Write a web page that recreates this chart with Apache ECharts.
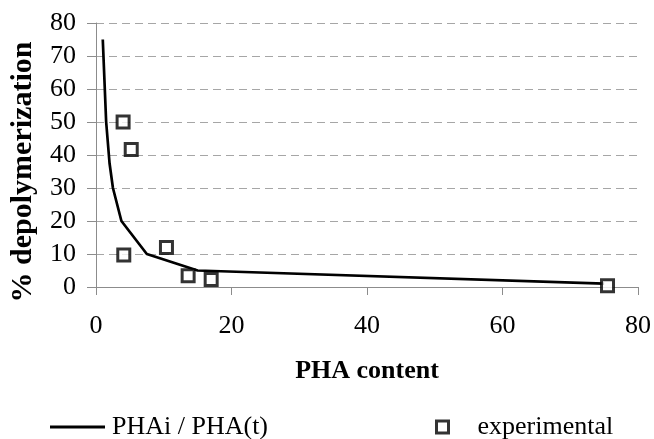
<!DOCTYPE html>
<html>
<head>
<meta charset="utf-8">
<script src="https://cdn.jsdelivr.net/npm/echarts@6/dist/echarts.min.js"></script>
<style>
html,body{margin:0;padding:0;background:#fff;}
#c{width:654px;height:439px;}
</style>
</head>
<body>
<div id="c"></div>
<script>
// Model curve PHAi / PHA(t)
const modelX = [1, 1.5, 2, 2.5, 3.75, 7.5, 15, 75];
const modelY = [75, 50, 37.5, 30, 20, 10, 5, 1];
// Experimental points
const expX = [4.0, 5.2, 4.1, 10.4, 13.6, 17.0, 75.5];
const expY = [50, 41.7, 9.7, 12, 3.4, 2.3, 0.4];
const xTicks = [0, 20, 40, 60, 80];
const yTicks = [0, 10, 20, 30, 40, 50, 60, 70, 80];
const seriesNames = ['PHAi / PHA(t)', 'experimental'];
const axisTitles = { x: 'PHA content', y: '% depolymerization' };

const FONT = '"Liberation Serif", "Times New Roman", serif';
const chart = echarts.init(document.getElementById('c'), null, { renderer: 'canvas' });

const option = {
  animation: false,
  backgroundColor: '#fff',
  grid: { left: 96, right: 16, top: 23, bottom: 152, containLabel: false },
  legend: [
    {
      data: [{ name: seriesNames[0], icon: 'rect' }],
      left: 45, top: 409,
      itemWidth: 55, itemHeight: 3,
      itemStyle: { color: '#000', borderWidth: 0 },
      textStyle: { fontFamily: FONT, fontSize: 26, color: '#000', lineHeight: 26, padding: [0, 0, 0, 2] },
      selectedMode: false
    },
    {
      data: [{ name: seriesNames[1], icon: 'rect' }],
      left: 430, top: 409,
      itemWidth: 12, itemHeight: 12,
      itemStyle: { color: '#fff', borderColor: '#000', borderWidth: 3 },
      textStyle: { fontFamily: FONT, fontSize: 26, color: '#000', lineHeight: 26, padding: [0, 0, 0, 24] },
      selectedMode: false
    }
  ],
  xAxis: {
    type: 'value',
    min: xTicks[0], max: xTicks[xTicks.length - 1], interval: 20,
    name: axisTitles.x,
    nameLocation: 'middle',
    nameGap: 71,
    nameTextStyle: { fontFamily: FONT, fontSize: 26, fontWeight: 'bold', color: '#000', lineHeight: 26 },
    axisLine: { show: true, onZero: false, lineStyle: { color: '#8c8c8c', width: 1 } },
    axisTick: { show: true, length: 8, lineStyle: { color: '#8c8c8c' } },
    axisLabel: { fontFamily: FONT, fontSize: 26, color: '#000', margin: 26, lineHeight: 26 },
    splitLine: { show: false }
  },
  yAxis: {
    type: 'value',
    min: yTicks[0], max: yTicks[yTicks.length - 1], interval: 10,
    axisLine: { show: true, lineStyle: { color: '#8c8c8c', width: 1 } },
    axisTick: { show: true, length: 9, lineStyle: { color: '#8c8c8c' } },
    axisLabel: { fontFamily: FONT, fontSize: 26, color: '#000', margin: 20 },
    splitLine: { show: true, lineStyle: { color: '#a6a6a6', type: [8, 5], width: 1 } }
  },
  graphic: [
    {
      type: 'text',
      x: 23, y: 172,
      rotation: Math.PI / 2,
      style: {
        text: axisTitles.y,
        font: 'bold 30px ' + FONT,
        fill: '#000',
        align: 'center',
        verticalAlign: 'middle'
      }
    }
  ],
  series: [
    {
      name: seriesNames[0],
      type: 'line',
      data: modelX.map((x, i) => [x, modelY[i]]),
      symbol: 'none',
      lineStyle: { color: '#000', width: 2.7 },
      itemStyle: { color: '#000' },
      z: 2
    },
    {
      name: seriesNames[1],
      type: 'scatter',
      data: expX.map((x, i) => [x, expY[i]]),
      symbol: 'rect',
      symbolSize: 12,
      itemStyle: { color: '#fff', borderColor: '#000', borderWidth: 3 },
      z: 3
    }
  ]
};
chart.setOption(option);
</script>
</body>
</html>
